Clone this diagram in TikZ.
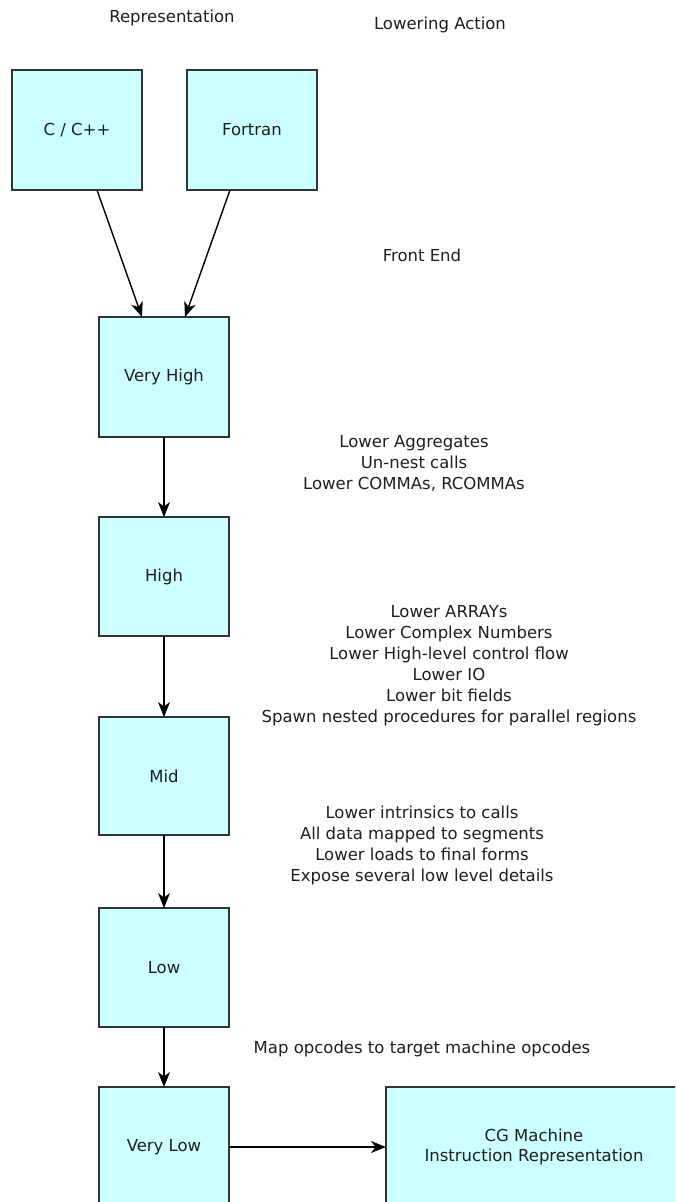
\documentclass[tikz,border=0pt]{standalone}
\usepackage{fontspec}
\setmainfont{DejaVu Sans}
\usetikzlibrary{arrows.meta,calc}
\definecolor{boxfill}{HTML}{CCFFFF}
\definecolor{boxline}{HTML}{333333}
\definecolor{txt}{HTML}{1E1E1E}
\tikzset{
  irbox/.style={draw=boxline, fill=boxfill, line width=1.4pt, inner sep=0pt, outer sep=0pt,
    minimum width=130pt, minimum height=120pt, align=center, text=txt,
    font=\fontsize{16.5}{20.5}\selectfont},
  note/.style={align=center, text=txt, inner sep=0pt, font=\fontsize{16.5}{21}\selectfont},
  flow/.style={-{Stealth[length=15pt,width=12pt,inset=4.5pt]}, line width=1.4pt, draw=black}
}
\begin{document}
\begin{tikzpicture}[x=1pt,y=-1pt]
\begin{scope}
\clip (0,0) rectangle (675,1202);
% column headings
\node[note] (rep) at (172,18) {Representation};
\node[note] (lowact) at (440,25) {Lowering Action};

% source languages
\node[irbox] (cpp) at (77,130) {C / C++};
\node[irbox] (fortran) at (252,130) {Fortran};

% WHIRL levels
\node[irbox] (vhigh) at (164,377) {Very High};
\node[irbox, minimum height=119pt] (high) at (164,576.5) {High};
\node[irbox, minimum height=118pt] (mid) at (164,776) {Mid};
\node[irbox, minimum height=119pt] (low) at (164,967.5) {Low};
\node[irbox] (vlow) at (164,1147) {Very Low};
\node[irbox, minimum width=296pt] (cg) at (534,1147) {CG Machine\\Instruction Representation};

% lowering actions between levels
\node[note] (fe) at (422,255) {Front End};
\node[note] (agg) at (414,463) {Lower Aggregates\\Un-nest calls\\Lower COMMAs, RCOMMAs};
\node[note] (arr) at (449,665.5) {Lower ARRAYs\\Lower Complex Numbers\\Lower High-level control flow\\Lower IO\\Lower bit fields\\Spawn nested procedures for parallel regions};
\node[note] (intr) at (422,845) {Lower intrinsics to calls\\All data mapped to segments\\Lower loads to final forms\\Expose several low level details};
\node[note] (map) at (422,1049) {Map opcodes to target machine opcodes};

% connectors
\draw[flow] ($(cpp.south)+(20,0)$) -- ($(vhigh.north)+(-22,0)$);
\draw[flow] ($(fortran.south)+(-22,0)$) -- ($(vhigh.north)+(21,0)$);
\draw[flow] (vhigh) -- (high);
\draw[flow] (high) -- (mid);
\draw[flow] (mid) -- (low);
\draw[flow] (low) -- (vlow);
\draw[flow] (vlow) -- (cg);
\end{scope}
\pgfresetboundingbox
\useasboundingbox (0,0) rectangle (675,1202);
\end{tikzpicture}
\end{document}
